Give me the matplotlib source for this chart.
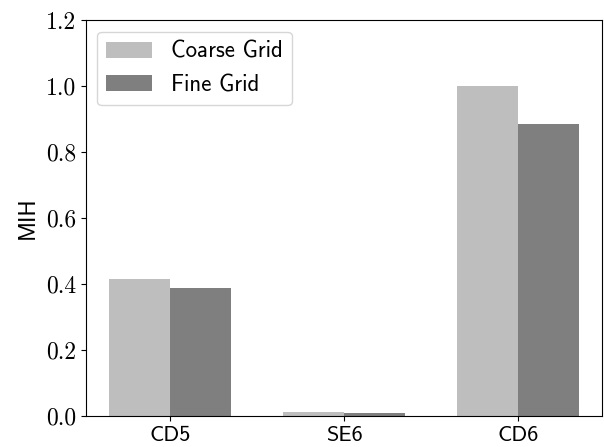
import matplotlib
matplotlib.use("Agg")
import matplotlib.pyplot as plt
import numpy as np

cases = ["CD5", "SE6", "CD6"]
coarse = [0.415, 0.013, 1.0]
fine = [0.388, 0.010, 0.885]

plt.rcParams["axes.formatter.use_mathtext"] = True

fig = plt.figure(figsize=(6.04, 4.47), dpi=100)
ax = fig.add_axes([0.142, 0.069, 0.855, 0.886])

x = np.arange(len(cases))
w = 0.35
ax.bar(x - w / 2, coarse, w, color="#bebebe", label="Coarse Grid")
ax.bar(x + w / 2, fine, w, color="#7f7f7f", label="Fine Grid")

ax.set_ylim(0, 1.2)
ax.set_yticks(np.arange(0, 1.21, 0.2))
ax.set_yticklabels([f"{v:.1f}" for v in np.arange(0, 1.21, 0.2)],
                   family="cmr10", fontsize=17)
ax.set_xticks(x)
ax.set_xticklabels(cases, family="cmss10", fontsize=16)
ax.set_ylabel("MIH", family="cmss10", fontsize=16.5, labelpad=5)

ax.legend(loc="upper left", prop={"family": "cmss10", "size": 16.5})

fig.savefig("out.png", dpi=100)
